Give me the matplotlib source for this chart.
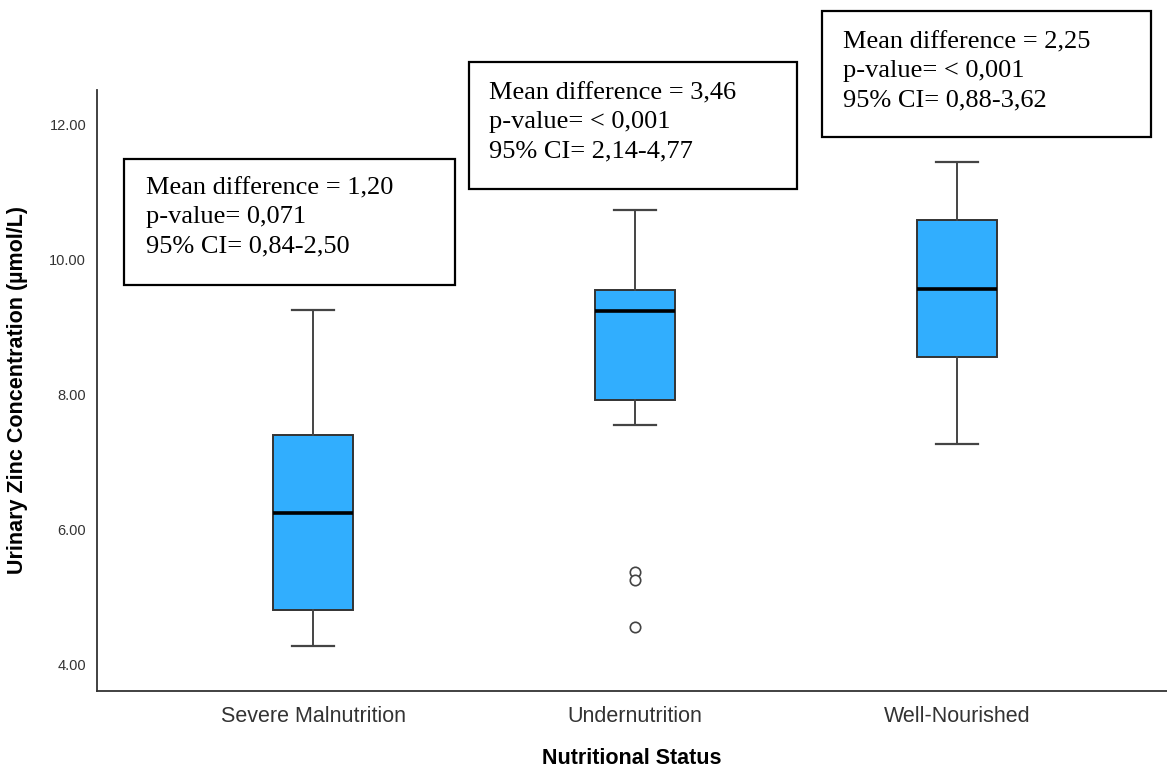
import matplotlib.pyplot as plt
from matplotlib.patches import Rectangle

# Data
groups = ["Severe Malnutrition", "Undernutrition", "Well-Nourished"]
whislo = [4.26, 7.55, 7.26]
q1 = [4.80, 7.91, 8.56]
med = [6.24, 9.24, 9.56]
q3 = [7.40, 9.55, 10.59]
whishi = [9.25, 10.74, 11.45]
fliers = [[], [5.37, 5.25, 4.55], []]
yticks = [4, 6, 8, 10, 12]

notes = [
    ["Mean difference = 1,20", "p-value= 0,071", "95% CI= 0,84-2,50"],
    ["Mean difference = 3,46", "p-value= < 0,001", "95% CI= 2,14-4,77"],
    ["Mean difference = 2,25", "p-value= < 0,001", "95% CI= 0,88-3,62"],
]

W, H = 1167, 768
fig = plt.figure(figsize=(W / 100, H / 100), dpi=100)

def fx(px):
    return px / W

def fy(py):
    return 1 - py / H

left, right, top, bottom = 97.3, 1167, 90, 690.7
ax = fig.add_axes([fx(left), fy(bottom), fx(right - left), (bottom - top) / H])

stats = []
for i in range(len(groups)):
    stats.append(dict(whislo=whislo[i], q1=q1[i], med=med[i], q3=q3[i],
                      whishi=whishi[i], fliers=fliers[i], label=groups[i]))

ax.bxp(stats, positions=range(len(groups)), widths=0.25, capwidths=0.13,
       patch_artist=True, showfliers=True,
       boxprops=dict(facecolor="#31aefe", edgecolor="#333333", linewidth=1.4),
       medianprops=dict(color="black", linewidth=2.6),
       whiskerprops=dict(color="#444444", linewidth=1.4),
       capprops=dict(color="#444444", linewidth=1.6),
       flierprops=dict(marker="o", markerfacecolor="white", markeredgecolor="#444444",
                       markersize=7.5, markeredgewidth=1.2))

ax.set_xlim(-0.67, 2.652)
ax.set_ylim(3.604, 12.516)
ax.set_yticks(yticks)
ax.set_yticklabels([f"{v:.2f}" for v in yticks], fontsize=10.5, color="#333333",
                   family="Liberation Sans")
ax.set_xticks(range(len(groups)))
ax.set_xticklabels(groups, fontsize=15.5, color="#333333", family="Liberation Sans")
ax.tick_params(axis="both", length=0)
ax.tick_params(axis="y", pad=8)
ax.tick_params(axis="x", pad=11)
for s in ["top", "right"]:
    ax.spines[s].set_visible(False)
for s in ["left", "bottom"]:
    ax.spines[s].set_color("#333333")
    ax.spines[s].set_linewidth(1.3)

ax.set_ylabel("Urinary Zinc Concentration (µmol/L)", fontsize=15.5, fontweight="bold",
              family="Liberation Sans", labelpad=15)
ax.set_xlabel("Nutritional Status", fontsize=15.5, fontweight="bold",
              family="Liberation Sans", labelpad=15)

# annotation boxes (pixel layout)
boxes = [(124, 159, 455, 285), (469, 62, 797, 189), (822, 11, 1151, 137)]
text_pos = [(146, 194), (489, 99), (843, 48)]
for note, (x0, y0, x1, y1), (tx, ty) in zip(notes, boxes, text_pos):
    fig.add_artist(Rectangle((fx(x0), fy(y1)), fx(x1 - x0), (y1 - y0) / H,
                             facecolor="white", edgecolor="black", linewidth=1.6,
                             transform=fig.transFigure))
    for k, line in enumerate(note):
        fig.text(fx(tx), fy(ty + 29 * k), line, fontsize=19, family="Liberation Serif",
                 va="baseline", ha="left", color="black")

fig.savefig("out.png", dpi=100)
